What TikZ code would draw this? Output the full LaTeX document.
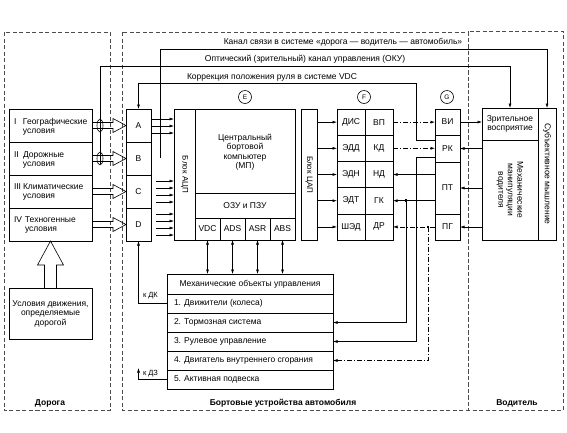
\documentclass[tikz,border=0pt]{standalone}
\usepackage{fontspec}
\setmainfont{Liberation Sans}
\usetikzlibrary{arrows.meta,calc}
\begin{document}
\begin{tikzpicture}[x=1pt,y=-1pt, line width=0.6pt,
  every node/.style={font=\fontsize{8.5}{9.5}\selectfont, inner sep=0pt, outer sep=0pt},
  box/.style={draw, anchor=north west, rectangle},
  arr/.style={-{Latex[length=4.5pt,width=3pt]}},
  darr/.style={{Latex[length=4.5pt,width=3pt]}-{Latex[length=4.5pt,width=3pt]}},
  dd/.style={dash pattern=on 5pt off 2pt on 1pt off 2pt},
  region/.style={draw=black!70, dash pattern=on 4pt off 2.5pt, line width=0.55pt},
  circ/.style={draw, circle, minimum size=13, font=\fontsize{6.5}{7}\selectfont},
  lbl/.style={font=\fontsize{8.5}{9.5}\selectfont\bfseries},
  small/.style={font=\fontsize{7.5}{8.5}\selectfont},
  vert/.style={font=\fontsize{8}{9}\selectfont}
]
\useasboundingbox (0,0) rectangle (567,432);

% regions
\draw[region] (4,32) rectangle (110,410);
\draw[region] (122,32) rectangle (468,410);
\draw[region] (468,31) rectangle (563,410);
\node[lbl] (lroad) at (50,403) {Дорога};
\node[lbl] (lcar) at (283,403) {Бортовые устройства автомобиля};
\node[lbl] (ldrv) at (517,403) {Водитель};

% conditions
\foreach \i/\y in {1/109,2/142,3/175,4/208}
  \node[box,minimum width=83,minimum height=33] (c\i) at (9,\y) {};
\node[anchor=west,align=left] (t1) at (14,127) {\makebox[9pt][l]{I}Географические\\\hspace*{9pt}условия};
\node[anchor=west,align=left] (t2) at (14,160) {\makebox[9pt][l]{II}Дорожные\\\hspace*{9pt}условия};
\node[anchor=west,align=left] (t3) at (14,192) {\makebox[9pt][l]{III}Климатические\\\hspace*{9pt}условия};
\node[anchor=west,align=left] (t4) at (14,225) {\makebox[11pt][l]{IV}Техногенные\\\hspace*{11pt}условия};

% A-D
\foreach \i/\y/\t in {1/109/A,2/142/B,3/175/C,4/208/D}
  \node[box,minimum width=25,minimum height=33] (\t) at (126,\y) {\t};

% hollow arrows
\foreach \i in {1,2,3,4}
  \draw (c\i.east) ++(0,-3) -- ++(21,0) -- ++(0,-4) -- ++(13,7) -- ++(-13,7) -- ++(0,-4) -- ++(-21,0);
\draw (100,125.5) ellipse [x radius=3, y radius=6.5];
\draw (100,158.5) ellipse [x radius=3, y radius=6.5];

% road box
\node[box,minimum width=83,minimum height=51,align=center] (road) at (9,288) {Условия движения,\\определяемые\\дорогой};
\draw (road.north) ++(-6,0) -- ++(0,-23) -- ++(-7,0) -- ++(13,-24) -- ++(13,24) -- ++(-7,0) -- ++(0,23);

% E block
\node[circ] (cE) at (245,97) {E};
\node[box,minimum width=21,minimum height=131] (adc) at (174,109) {};
\node[rotate=-90,vert] at (adc.center) {Блок АЦП};
\node[box,minimum width=100,minimum height=131] (cpu) at (195,109) {};
\node[align=center] (cput) at (245,152) {Центральный\\бортовой\\компьютер\\(МП)};
\node[box,minimum width=100,minimum height=25] (mem) at (195,193) {ОЗУ и ПЗУ};
\foreach \i/\t/\n in {0/VDC/vdc,1/ADS/ads,2/ASR/asr,3/ABS/abs}
  \node[box,minimum width=25,minimum height=22] (\n) at ({195+25*\i},218) {\t};
\node[box,minimum width=16,minimum height=131] (dac) at (301,109) {};
\node[rotate=-90,vert] at (dac.center) {Блок ЦАП};

% A-D -> ADC
\foreach \y in {119,126,133} \draw[arr] (A.east |- 0,\y) -- (adc.west |- 0,\y);
\foreach \y in {181,188,195,202} \draw[arr] (156,\y) -- (adc.west |- 0,\y);
\foreach \y in {214,221,228,235} \draw[arr] (156,\y) -- (adc.west |- 0,\y);

% F column
\node[circ] (cF) at (364,97) {F};
\foreach \i/\l/\r in {0/ДИС/ВП,1/ЭДД/КД,2/ЭДН/НД,3/ЭДТ/ГК,4/ШЭД/ДР}{
  \node[box,minimum width=28,minimum height=26.2] (fl\i) at (337,{109+26.2*\i}) {\l};
  \node[box,minimum width=28,minimum height=26.2] (fr\i) at (365,{109+26.2*\i}) {\r};
  \draw[arr] (dac.east |- fl\i.west) -- (fl\i.west);
}

% G column
\node[circ] (cG) at (447,97) {G};
\node[box,minimum width=25,minimum height=26] (vi) at (435,109) {ВИ};
\node[box,minimum width=25,minimum height=27] (rk) at (435,135) {РК};
\node[box,minimum width=25,minimum height=52] (pt) at (435,162) {ПТ};
\node[box,minimum width=25,minimum height=26] (pg) at (435,214) {ПГ};

% driver
\node[box,minimum width=56,minimum height=32,align=center] (vis) at (482,108) {Зрительное\\восприятие};
\node[box,minimum width=56,minimum height=100] (man) at (482,140) {};
\node[rotate=-90,align=center] at (man.center) {Механические\\манипуляции\\водителя};
\node[box,minimum width=18,minimum height=132] (subj) at (538,108) {};
\node[rotate=-90] at (subj.center) {Субъективное мышление};

\draw[arr] (vi.east) -- (vi.east -| vis.west);
\draw[arr] (rk.east -| man.west) -- (rk.east);
\draw[arr] (pt.east -| man.west) -- (pt.east);
\draw[arr] (pg.east -| man.west) -- (pg.east);

% F <-> G
\draw[arr,dd] (fr0.east) -- (fr0.east -| vi.west);
\draw[arr,dd] (fr1.east) -- (fr1.east -| rk.west);
\draw[arr] (fr2.east -| pt.west) -- (fr2.east);
\draw[arr] (fr3.east -| pt.west) -- (fr3.east);
\draw[arr,dd] (fr4.east -| pg.west) -- (fr4.east);

% mechanical objects
\node[box,minimum width=166,minimum height=20] (mh) at (167,274) {Механические объекты управления};
\foreach \i/\t in {1/{1. Движители (колеса)},2/{2. Тормозная система},3/{3. Рулевое управление},4/{4. Двигатель внутреннего сгорания},5/{5. Активная подвеска}}{
  \node[box,minimum width=166,minimum height=19] (m\i) at (167,{294+19*(\i-1)}) {};
  \node[anchor=west] at ($(m\i.west)+(7,0)$) {\t};
}
\foreach \n in {vdc,ads,asr,abs} \draw[darr] (\n.south) -- (\n.south |- mh.north);

\coordinate (xpt) at (406,0);
\coordinate (xrk) at (416,0);
\coordinate (xpg) at (428,0);
\draw[arr] (xpt |- fr3.east) -- (xpt |- m2.east) -- (m2.east);
\fill (xpt |- fr3.east) +(-1.4,-1.4) rectangle +(1.4,1.4);
\coordinate (rk2) at (rk.west |- 0,157);
\draw[arr] (rk2) -| (xrk |- m3.east) -- (m3.east);
\draw[arr,dd] (xpg |- fr4.east) -- (xpg |- m4.east) -- (m4.east);
\fill (xpg |- fr4.east) +(-1.4,-1.4) rectangle +(1.4,1.4);

\draw[arr] (m1.west) -| (D.south);
\node[anchor=west,small] (kdk) at (143,296) {к ДК};
\coordinate (dz) at (D.south |- 0,368);
\draw[arr] (m5.west) -| (dz);
\node[anchor=west,small] (kdz) at (143,374) {к ДЗ};

% top channels
\node (tk) at (343,42) {Канал связи в системе «дорога — водитель — автомобиль»};
\node (to) at (305,59) {Оптический (зрительный) канал управления (ОКУ)};
\node (tc) at (272,77) {Коррекция положения руля в системе VDC};
\coordinate (k0) at (160,158);
\coordinate (kc) at (subj.north |- 0,49);
\draw[arr] (k0) |- (kc) -- (subj.north);
\coordinate (o0) at (100,164);
\coordinate (oc) at (vis.north |- 0,66);
\draw[arr] (o0) |- (oc) -- (vis.north);
\coordinate (rk1) at (rk.west |- 0,140);
\coordinate (cc) at (416,83);
\draw[arr] (rk1) -| (cc) -| (A.north);
\end{tikzpicture}
\end{document}
